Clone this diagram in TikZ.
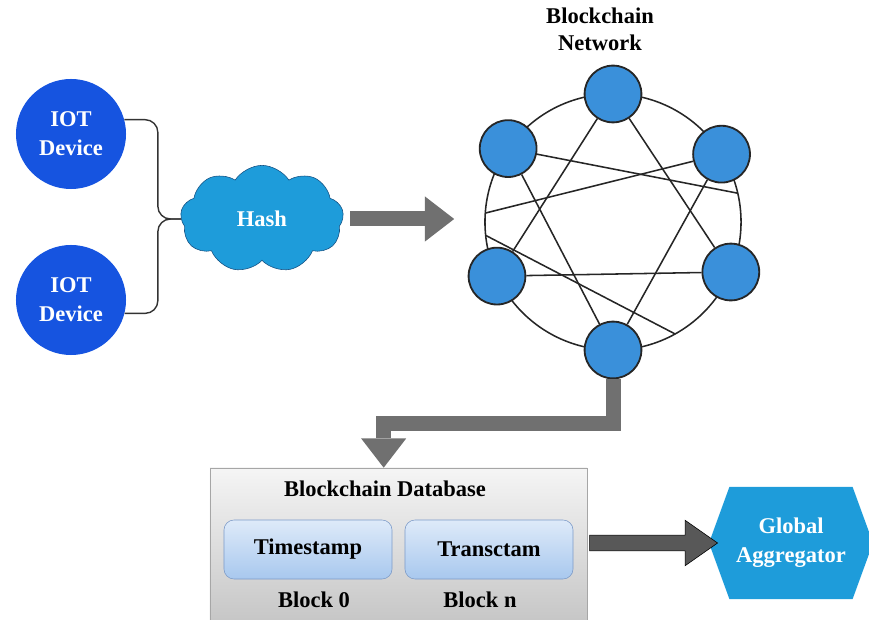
\documentclass[tikz,border=0pt]{standalone}
\usepackage{fontspec}
\setmainfont{Liberation Serif}
\usetikzlibrary{shapes.symbols,shapes.arrows,arrows.meta,calc}

\definecolor{iotblue}{RGB}{22,84,224}
\definecolor{hashblue}{RGB}{30,156,218}
\definecolor{hashedge}{RGB}{20,80,130}
\definecolor{netblue}{RGB}{58,144,218}
\definecolor{arrowgray}{RGB}{112,112,112}
\definecolor{arrowdark}{RGB}{88,88,88}
\definecolor{blocktop}{RGB}{222,234,249}
\definecolor{blockbot}{RGB}{168,200,238}
\definecolor{blockedge}{RGB}{125,155,200}

\tikzset{
  iot/.style={circle, fill=iotblue, text=white, minimum size=2.75cm, align=center},
  hashcloud/.style={cloud, cloud puffs=9, cloud puff arc=115, aspect=1.5, draw=hashedge, fill=hashblue, text=white, minimum width=4.08cm, minimum height=2.68cm},
  netnode/.style={circle, draw=black!85, line width=1.3pt, fill=netblue, minimum size=1.42cm},
  netline/.style={line width=1.1pt, black!85},
  grayarrow/.style={draw=arrowgray, line width=0.375cm, -{Triangle[width=1.125cm,length=0.73cm,line width=0pt]}},
  dbbox/.style={rectangle, draw=gray!70, top color=gray!8, bottom color=gray!45, minimum width=9.425cm, minimum height=3.9cm},
  blockbox/.style={rectangle, rounded corners=0.25cm, draw=blockedge, top color=blocktop, bottom color=blockbot, minimum width=4.2cm, minimum height=1.475cm},
  dbarrow/.style={single arrow, draw=black, fill=arrowdark, minimum height=3.2cm, inner sep=0.1875cm, single arrow head extend=0.375cm, single arrow tip angle=70},
  aggshape/.style={signal, signal to=west and east, signal pointer angle=140, fill=hashblue, text=white, minimum width=4.1cm, minimum height=2.8cm, align=center, inner sep=0pt}
}

\begin{document}
\begin{tikzpicture}[x=0.025cm, y=0.025cm, font=\bfseries\fontsize{16}{20.5}\selectfont]
\useasboundingbox (0,0) rectangle (869,619);

\node[iot] (iot1) at (71,485) {IOT\\Device};
\node[iot] (iot2) at (71,319) {IOT\\Device};
\node[hashcloud] (hash) at (262,400) {Hash};
\draw[line width=1pt, black!80, rounded corners=9] (iot1.15) -| ($(hash.west)+(-23,0)$) -- (hash.west);
\draw[line width=1pt, black!80, rounded corners=9] (iot2.-14) -| ($(hash.west)+(-23,0)$) -- (hash.west);

\node[circle, draw, netline, minimum size=6.4cm] (ring) at (613,397) {};
\node[align=center, font=\bfseries\fontsize{16}{19}\selectfont] (nettitle) at (600,590) {Blockchain\\Network};
\foreach \a [count=\i] in {90,145,205,270,337,32}
  \node[netnode] (n\i) at ($(ring.center)+(\a:128)$) {};
\foreach \a [count=\i] in {13,176,186,299}
  \coordinate (r\i) at ($(ring.center)+(\a:128)$);
\draw[netline] (n2) -- (r1);
\draw[netline] (n6) -- (r2);
\draw[netline] (n1) -- (n3);
\draw[netline] (n1) -- (n5);
\draw[netline] (n2) -- (n4);
\draw[netline] (n6) -- (n4);
\draw[netline] (r3) -- (r4);
\draw[netline] (n3) -- (n5);

\draw[grayarrow] ($(hash.east)+(7,0)$) -- ($(hash.east -| ring.west)+(-30,0)$);

\node[dbbox] (db) at (398.5,73) {};
\node (dbtitle) at (385,130) {Blockchain Database};
\node[blockbox] (b0) at (308,69.5) {Timestamp};
\node[blockbox] (bn) at (489,69.5) {Transctam};
\node (b0lbl) at (314,19) {Block 0};
\node (bnlbl) at (480,19) {Block n};
\coordinate (dbin) at ($(db.north west)+(174,0)$);
\draw[grayarrow] (n4.south) |- ($(dbin)+(0,44)$) -- (dbin);

\node[aggshape] (agg) at (791,76) {Global\\Aggregator};
\node[dbarrow] (dbagg) at ($(db.east |- agg.west)!0.5!(agg.west)$) {};
\end{tikzpicture}
\end{document}
